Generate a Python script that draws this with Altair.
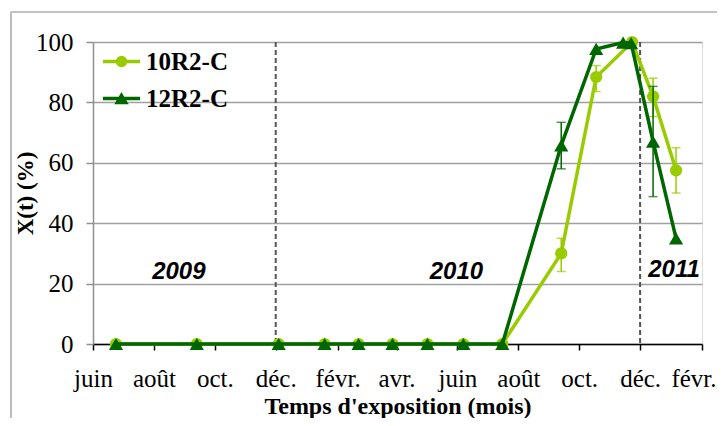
import json
import altair as alt
import pandas as pd

# ---- data ----
series_names = ["10R2-C", "12R2-C"]
series_colors = ["#99CC00", "#006600"]

dates_10 = ["2009-06-24", "2009-09-13", "2009-12-04", "2010-01-19", "2010-02-22",
            "2010-03-28", "2010-05-02", "2010-06-07", "2010-07-16", "2010-09-13",
            "2010-10-18", "2010-11-23", "2010-12-14", "2011-01-06"]
vals_10 = [0, 0, 0, 0, 0, 0, 0, 0, 0, 30, 88.4, 100, 82, 57.5]

dates_12 = ["2009-06-24", "2009-09-13", "2009-12-04", "2010-01-19", "2010-02-22",
            "2010-03-28", "2010-05-02", "2010-06-07", "2010-07-16", "2010-09-13",
            "2010-10-18", "2010-11-14", "2010-11-22", "2010-12-14", "2011-01-06"]
vals_12 = [0, 0, 0, 0, 0, 0, 0, 0, 0, 65.8, 97.7, 99.8, 99.6, 67, 35]

err_series = ["10R2-C", "10R2-C", "10R2-C", "10R2-C", "12R2-C", "12R2-C"]
err_dates = ["2010-09-13", "2010-10-18", "2010-12-14", "2011-01-06", "2010-09-13", "2010-12-14"]
err_low = [24, 83.6, 75.3, 50, 58, 48.8]
err_high = [35, 92.2, 88, 65, 73.4, 85.3]

year_labels = ["2009", "2010", "2011"]
year_dates = ["2009-08-26", "2010-05-31", "2011-01-04"]
year_y = [24, 24, 24.6]

dashed_dates = ["2009-12-01", "2010-12-01"]

tick_dates = ["2009-06-01", "2009-08-01", "2009-10-01", "2009-12-01", "2010-02-01",
              "2010-04-01", "2010-06-01", "2010-08-01", "2010-10-01", "2010-12-01",
              "2011-02-01"]
tick_labels = ["juin", "août", "oct.", "déc.", "févr.", "avr.", "juin", "août",
               "oct.", "déc.", "févr."]
y_ticks = [0, 20, 40, 60, 80, 100]

# ---- tables ----
def ts(d):
    return d + "T00:00:00"

rows = []
for d, v in zip(dates_10, vals_10):
    rows.append({"date": ts(d), "value": v, "series": series_names[0]})
for d, v in zip(dates_12, vals_12):
    rows.append({"date": ts(d), "value": v, "series": series_names[1]})
df = pd.DataFrame(rows)

err_df = pd.DataFrame({"date": [ts(d) for d in err_dates], "lo": err_low,
                       "hi": err_high, "series": err_series})
year_df = pd.DataFrame({"date": [ts(d) for d in year_dates], "y": year_y, "label": year_labels})
dash_df = pd.DataFrame({"date": [ts(d) for d in dashed_dates]})

month_names = [""] * 12
for d, l in zip(tick_dates, tick_labels):
    month_names[int(d[5:7]) - 1] = l
label_expr = json.dumps(month_names, ensure_ascii=False) + "[month(datum.value)]"

def dt(d):
    return alt.DateTime(year=int(d[0:4]), month=int(d[5:7]), date=int(d[8:10]))

x_scale = alt.Scale(domain=[dt(tick_dates[0]), dt(tick_dates[-1])])
y_scale = alt.Scale(domain=[0, 100])

SERIF = "Liberation Serif"
last_tick_test = "year(datum.value) == %s" % tick_dates[-1][0:4]

x_axis = alt.Axis(values=[dt(d) for d in tick_dates], labelExpr=label_expr,
                  title="Temps d'exposition (mois)", grid=False,
                  labelFont=SERIF, labelFontSize=25, labelColor="black",
                  labelAlign={"condition": {"test": last_tick_test, "value": "right"}, "value": "center"},
                  labelOffset={"condition": {"test": last_tick_test, "value": 14}, "value": 0},
                  labelPadding=16, tickSize=6, tickColor="black", tickWidth=1.5,
                  domainColor="black", domainWidth=1.5,
                  titleFont=SERIF, titleFontSize=24, titleFontWeight="bold",
                  titleColor="black", titleBaseline="alphabetic", titleY=69,
                  labelFlush=False, labelOverlap=False)
y_axis = alt.Axis(values=y_ticks, title="X(t) (%)", grid=True,
                  gridColor="#a0a0a0", gridWidth=1.3,
                  labelFont=SERIF, labelFontSize=25, labelColor="black",
                  labelPadding=13, tickSize=7, tickColor="#909090", tickWidth=1.5,
                  domainColor="#909090", domainWidth=1.5,
                  titleFont=SERIF, titleFontSize=23, titleFontWeight="bold",
                  titleColor="black", titleX=-56, titleY=151, titleBaseline="bottom")

# legend symbols: a line with the marker on it (rings so it reads filled even without fill)
circle_path = ("M-1.6,0H1.6"
               "M-0.35,0A0.35,0.35,0,1,1,0.35,0A0.35,0.35,0,1,1,-0.35,0Z"
               "M-0.1,0A0.1,0.1,0,1,1,0.1,0A0.1,0.1,0,1,1,-0.1,0Z")
tri_path = ("M-1.6,0H1.6"
            "M0,-0.255L0.357,0.35L-0.357,0.35Z"
            "M0,0.048L0.087,0.196L-0.087,0.196Z")
symbol_paths = [circle_path, tri_path]
legend_y = [6, 43]

def make_legend(i):
    return alt.Legend(
        title=None, orient="none", legendX=15, legendY=legend_y[i], padding=0,
        labelFont=SERIF, labelFontSize=25, labelFontWeight="bold", labelColor="black",
        labelOffset=11, symbolType=symbol_paths[i], symbolSize=538,
        symbolStrokeWidth=3.5, symbolStrokeColor=series_colors[i],
        symbolFillColor=series_colors[i])

def series_layers(i):
    name = series_names[i]
    col = series_colors[i]
    sub = df[df["series"] == name]
    esub = err_df[err_df["series"] == name]
    err_rule = alt.Chart(esub).mark_rule(strokeWidth=1.5, color=col).encode(
        x=alt.X("date:T", scale=x_scale),
        y=alt.Y("lo:Q", scale=y_scale), y2="hi:Q")
    cap_lo = alt.Chart(esub).mark_tick(orient="horizontal", size=9, thickness=1.5, color=col).encode(
        x=alt.X("date:T", scale=x_scale), y=alt.Y("lo:Q", scale=y_scale))
    cap_hi = alt.Chart(esub).mark_tick(orient="horizontal", size=9, thickness=1.5, color=col).encode(
        x=alt.X("date:T", scale=x_scale), y=alt.Y("hi:Q", scale=y_scale))
    line = alt.Chart(sub).mark_line(strokeWidth=3.5).encode(
        x=alt.X("date:T", scale=x_scale),
        y=alt.Y("value:Q", scale=y_scale),
        color=alt.Color("series:N", scale=alt.Scale(domain=[name], range=[col]),
                        legend=make_legend(i)),
        order="date:T")
    pts = alt.Chart(sub).mark_point(
        filled=True, opacity=1, size=[150, 200][i], shape=["circle", "triangle-up"][i],
        color=col).encode(
        x=alt.X("date:T", scale=x_scale),
        y=alt.Y("value:Q", scale=y_scale))
    return [err_rule, cap_lo, cap_hi, line, pts]

dashes = alt.Chart(dash_df).mark_rule(color="#555555", strokeWidth=2, strokeDash=[5, 3]).encode(
    x=alt.X("date:T", scale=x_scale, axis=x_axis),
    y=alt.value(0), y2=alt.value(302))

# carrier for the y axis
y_carrier = alt.Chart(year_df).mark_text(opacity=0).encode(
    x=alt.X("date:T", scale=x_scale),
    y=alt.Y("y:Q", scale=y_scale, axis=y_axis), text="label:N")

years = alt.Chart(year_df).mark_text(font="Liberation Sans", fontSize=24, fontWeight="bold",
                                     fontStyle="italic", color="black", baseline="middle").encode(
    x=alt.X("date:T", scale=x_scale), y=alt.Y("y:Q", scale=y_scale), text="label:N")

# outer chart-area border (left and top edges; the others run off the picture)
frame_left = alt.Chart(dash_df).mark_rule(color="#b0b0b0", strokeWidth=1.2).encode(
    x=alt.value(-82), y=alt.value(-30), y2=alt.value(1000))
frame_top = alt.Chart(dash_df).mark_rule(color="#b0b0b0", strokeWidth=1.2).encode(
    x=alt.value(-82), x2=alt.value(1000), y=alt.value(-30))

chart = alt.layer(frame_left, frame_top, dashes, y_carrier, *series_layers(0), *series_layers(1),
                  years).resolve_scale(
    color="independent"
).properties(
    width=609, height=302,
    padding={"left": 85, "top": 34, "right": 15, "bottom": 74},
    autosize=alt.AutoSizeParams(type="none"),
).configure_view(stroke="black", strokeWidth=1.5).configure_axis(
    labelFont=SERIF, titleFont=SERIF
).configure(background="white")

chart.save("out.html", embed_options={"renderer": "svg", "actions": False})
